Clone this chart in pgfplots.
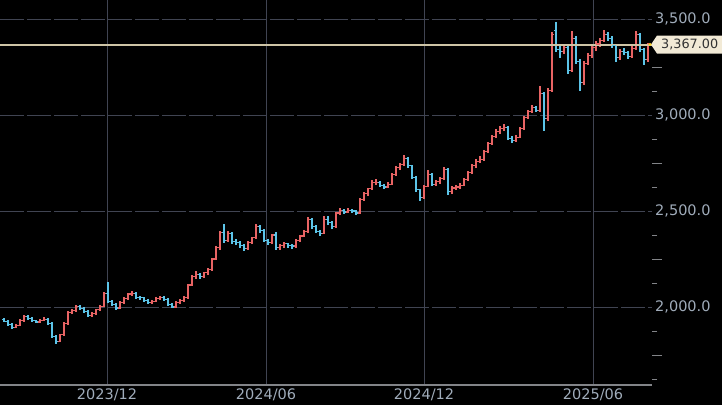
\documentclass[border=0pt]{standalone}
\usepackage{pgfplots}
\pgfplotsset{compat=1.18}
\usepackage{pgfplotstable}
\usepackage{fontspec}
\setmainfont{DejaVu Sans}
\definecolor{upc}{RGB}{232,100,100}
\definecolor{dnc}{RGB}{92,196,232}
\definecolor{gridc}{RGB}{64,68,82}
\definecolor{labc}{RGB}{160,172,186}
\definecolor{tickc}{RGB}{130,132,136}
\definecolor{linec}{RGB}{206,196,166}
\definecolor{boxc}{RGB}{242,234,214}

\pgfdeclareplotmark{ohlcL}{\pgfpathmoveto{\pgfqpoint{-\pgfplotmarksize}{0pt}}\pgfpathlineto{\pgfqpoint{0pt}{0pt}}\pgfusepathqstroke}
\pgfdeclareplotmark{ohlcR}{\pgfpathmoveto{\pgfqpoint{0pt}{0pt}}\pgfpathlineto{\pgfqpoint{\pgfplotmarksize}{0pt}}\pgfusepathqstroke}

\pgfplotstableread{
x o h l c
4 1935 1942 1920 1927
8 1927 1932 1903 1910
12 1910 1916 1888 1895
16 1895 1912 1890 1905
20 1905 1936 1900 1930
24 1930 1958 1924 1950
28 1950 1956 1933 1940
32 1940 1946 1922 1928
36 1928 1934 1915 1922
40 1922 1939 1916 1932
44 1932 1947 1926 1937
48 1937 1942 1908 1915
52 1915 1920 1838 1845
56 1845 1852 1810 1822
60 1822 1862 1816 1855
64 1855 1922 1848 1915
68 1915 1980 1908 1972
72 1972 1992 1963 1982
76 1982 2012 1976 2002
80 2002 2010 1984 1992
84 1992 1998 1970 1978
88 1978 1984 1946 1955
92 1955 1974 1948 1968
96 1968 1992 1960 1985
100 1985 2010 1978 2003
104 2003 2077 1998 2070
108 2070 2130 2020 2030
112 2030 2038 2008 2015
116 2015 2022 1983 1995
120 1995 2032 1988 2025
124 2025 2052 2018 2045
128 2045 2074 2038 2068
132 2068 2084 2058 2070
136 2070 2076 2043 2050
140 2050 2060 2038 2048
144 2048 2054 2026 2035
148 2035 2042 2016 2025
152 2025 2038 2018 2030
156 2030 2052 2024 2045
160 2045 2060 2038 2050
164 2050 2056 2033 2040
168 2040 2046 2008 2015
172 2015 2022 1993 2000
176 2000 2032 1994 2025
180 2025 2042 2018 2035
184 2035 2058 2028 2050
188 2050 2122 2044 2115
192 2115 2167 2108 2160
196 2160 2187 2148 2170
200 2170 2177 2148 2160
204 2160 2184 2153 2178
208 2178 2202 2168 2195
212 2195 2257 2188 2250
216 2250 2317 2243 2310
220 2310 2397 2298 2390
224 2390 2432 2333 2345
228 2345 2397 2338 2385
232 2385 2392 2328 2340
236 2340 2352 2323 2335
240 2335 2342 2308 2320
244 2320 2327 2293 2305
248 2305 2342 2298 2335
252 2335 2367 2328 2360
256 2360 2430 2353 2420
260 2420 2427 2388 2400
264 2400 2407 2338 2345
268 2345 2352 2323 2335
272 2335 2382 2328 2375
276 2375 2390 2298 2310
280 2310 2327 2298 2320
284 2320 2340 2310 2330
288 2330 2336 2310 2320
292 2320 2328 2303 2318
296 2318 2352 2310 2345
300 2345 2377 2338 2370
304 2370 2402 2363 2395
308 2395 2470 2388 2455
312 2455 2462 2408 2420
316 2420 2427 2386 2395
320 2395 2402 2368 2385
324 2385 2472 2378 2455
328 2455 2472 2428 2440
332 2440 2447 2408 2420
336 2420 2497 2413 2490
340 2490 2514 2478 2505
344 2505 2512 2483 2495
348 2495 2514 2488 2505
352 2505 2512 2488 2500
356 2500 2507 2480 2490
360 2490 2567 2483 2560
364 2560 2597 2553 2590
368 2590 2622 2580 2615
372 2615 2660 2608 2650
376 2650 2667 2638 2650
380 2650 2657 2626 2635
384 2635 2642 2613 2625
388 2625 2650 2618 2640
392 2640 2697 2633 2690
396 2690 2732 2683 2725
400 2725 2752 2713 2740
404 2740 2790 2733 2775
408 2775 2782 2726 2735
412 2735 2742 2666 2675
416 2675 2682 2598 2610
420 2610 2617 2550 2570
424 2570 2637 2563 2630
428 2630 2712 2623 2690
432 2690 2697 2628 2640
436 2640 2664 2630 2655
440 2655 2677 2643 2670
444 2670 2728 2663 2715
448 2715 2722 2583 2600
452 2600 2630 2588 2620
456 2620 2634 2608 2625
460 2625 2644 2613 2635
464 2635 2672 2628 2665
468 2665 2708 2658 2700
472 2700 2744 2693 2735
476 2735 2770 2726 2760
480 2760 2787 2748 2770
484 2770 2820 2763 2810
488 2810 2858 2803 2850
492 2850 2897 2843 2890
496 2890 2927 2878 2915
500 2915 2942 2903 2930
504 2930 2952 2918 2935
508 2935 2942 2868 2880
512 2880 2892 2853 2865
516 2865 2894 2858 2885
520 2885 2937 2878 2930
524 2930 2994 2923 2985
528 2985 3027 2978 3020
532 3020 3052 3010 3040
536 3040 3047 3016 3025
540 3025 3150 3018 3110
544 3110 3122 2915 2980
548 2980 3142 2968 3130
552 3130 3432 3118 3420
556 3440 3482 3328 3340
560 3340 3372 3298 3330
564 3330 3367 3318 3350
568 3350 3357 3213 3230
572 3230 3437 3223 3400
576 3400 3412 3268 3280
580 3280 3292 3125 3170
584 3170 3282 3158 3270
588 3270 3322 3258 3310
592 3310 3362 3298 3350
596 3350 3387 3333 3370
600 3370 3400 3353 3390
604 3390 3442 3378 3420
608 3420 3432 3388 3400
612 3400 3410 3348 3360
616 3360 3367 3278 3300
620 3300 3342 3288 3330
624 3330 3347 3313 3325
628 3325 3332 3293 3305
632 3305 3357 3296 3345
636 3345 3437 3338 3420
640 3420 3427 3328 3340
644 3340 3347 3258 3290
648 3290 3377 3278 3367
}\bars

\begin{document}
\begin{tikzpicture}
\path[use as bounding box, fill=black] (0,0) rectangle (722pt,405pt);
\begin{axis}[
  at={(0pt,405pt)}, anchor=north west,
  scale only axis, width=652pt, height=385pt,
  xmin=0, xmax=652, ymin=1594, ymax=3599,
  axis x line*=bottom, axis y line*=right,
  x axis line style={draw=tickc, line width=1.2pt},
  y axis line style={draw=none},
  xtick={107,266,424,593},
  xticklabels={2023/12,2024/06,2024/12,2025/06},
  ytick={2000,2500,3000,3500},
  yticklabels={{2,000.0},{2,500.0},{3,000.0},{3,500.0}},
  minor ytick={1625,1875,2125,2375,2625,2875,3125,3375},
  extra y ticks={1750,2250,2750,3250},
  extra y tick labels={},
  extra y tick style={major tick length=10pt, grid=none},
  tick align=outside,
  major tick length=0pt, minor tick length=5pt,
  tick style={draw=tickc, line width=1pt},
  xmajorgrids, ymajorgrids,
  x grid style={gridc, line width=1pt},
  y grid style={gridc, line width=1pt, dash pattern=on 24pt off 3pt},
  ticklabel style={font=\fontsize{14.5}{17}\selectfont, text=labc},
  yticklabel style={anchor=west, inner sep=0pt, xshift=3pt},
  xticklabel style={anchor=north, inner sep=0pt, yshift=-4pt},
  clip=false,
]
% up bars
\addplot[upc, only marks, mark=ohlcL, mark size=2pt, mark options={line width=1.1pt},
  restrict expr to domain={\thisrow{c}-\thisrow{o}}{0:100000},
  error bars/.cd, y dir=both, y explicit, error mark=none,
  error bar style={line width=1.1pt, upc}]
  table[x=x, y=o, y error plus expr=\thisrow{h}-\thisrow{o}, y error minus expr=\thisrow{o}-\thisrow{l}]{\bars};
\addplot[upc, only marks, mark=ohlcR, mark size=2pt, mark options={line width=1.1pt},
  restrict expr to domain={\thisrow{c}-\thisrow{o}}{0:100000}]
  table[x=x, y=c]{\bars};
% down bars
\addplot[dnc, only marks, mark=ohlcL, mark size=2pt, mark options={line width=1.1pt},
  restrict expr to domain={\thisrow{c}-\thisrow{o}}{-100000:-0.5},
  error bars/.cd, y dir=both, y explicit, error mark=none,
  error bar style={line width=1.1pt, dnc}]
  table[x=x, y=o, y error plus expr=\thisrow{h}-\thisrow{o}, y error minus expr=\thisrow{o}-\thisrow{l}]{\bars};
\addplot[dnc, only marks, mark=ohlcR, mark size=2pt, mark options={line width=1.1pt},
  restrict expr to domain={\thisrow{c}-\thisrow{o}}{-100000:-0.5}]
  table[x=x, y=c]{\bars};
% last price line
\addplot[linec, line width=2pt] coordinates {(0,3367) (652,3367)};
\fill[boxc] (axis cs:651,3367) -- ++(6pt,9pt) -- ++(70pt,0pt) -- ++(0pt,-18pt) -- ++(-70pt,0pt) -- cycle;
\node[anchor=west, inner sep=0pt, text={rgb,255:red,50;green,50;blue,50}, font=\fontsize{12.8}{15}\selectfont] at ([xshift=10pt]axis cs:651,3367) {3,367.00};
\addplot[only marks, mark=*, mark size=1.4pt, color={rgb,255:red,250;green,210;blue,40}] coordinates {(650,3367)};
\end{axis}
\end{tikzpicture}
\end{document}
